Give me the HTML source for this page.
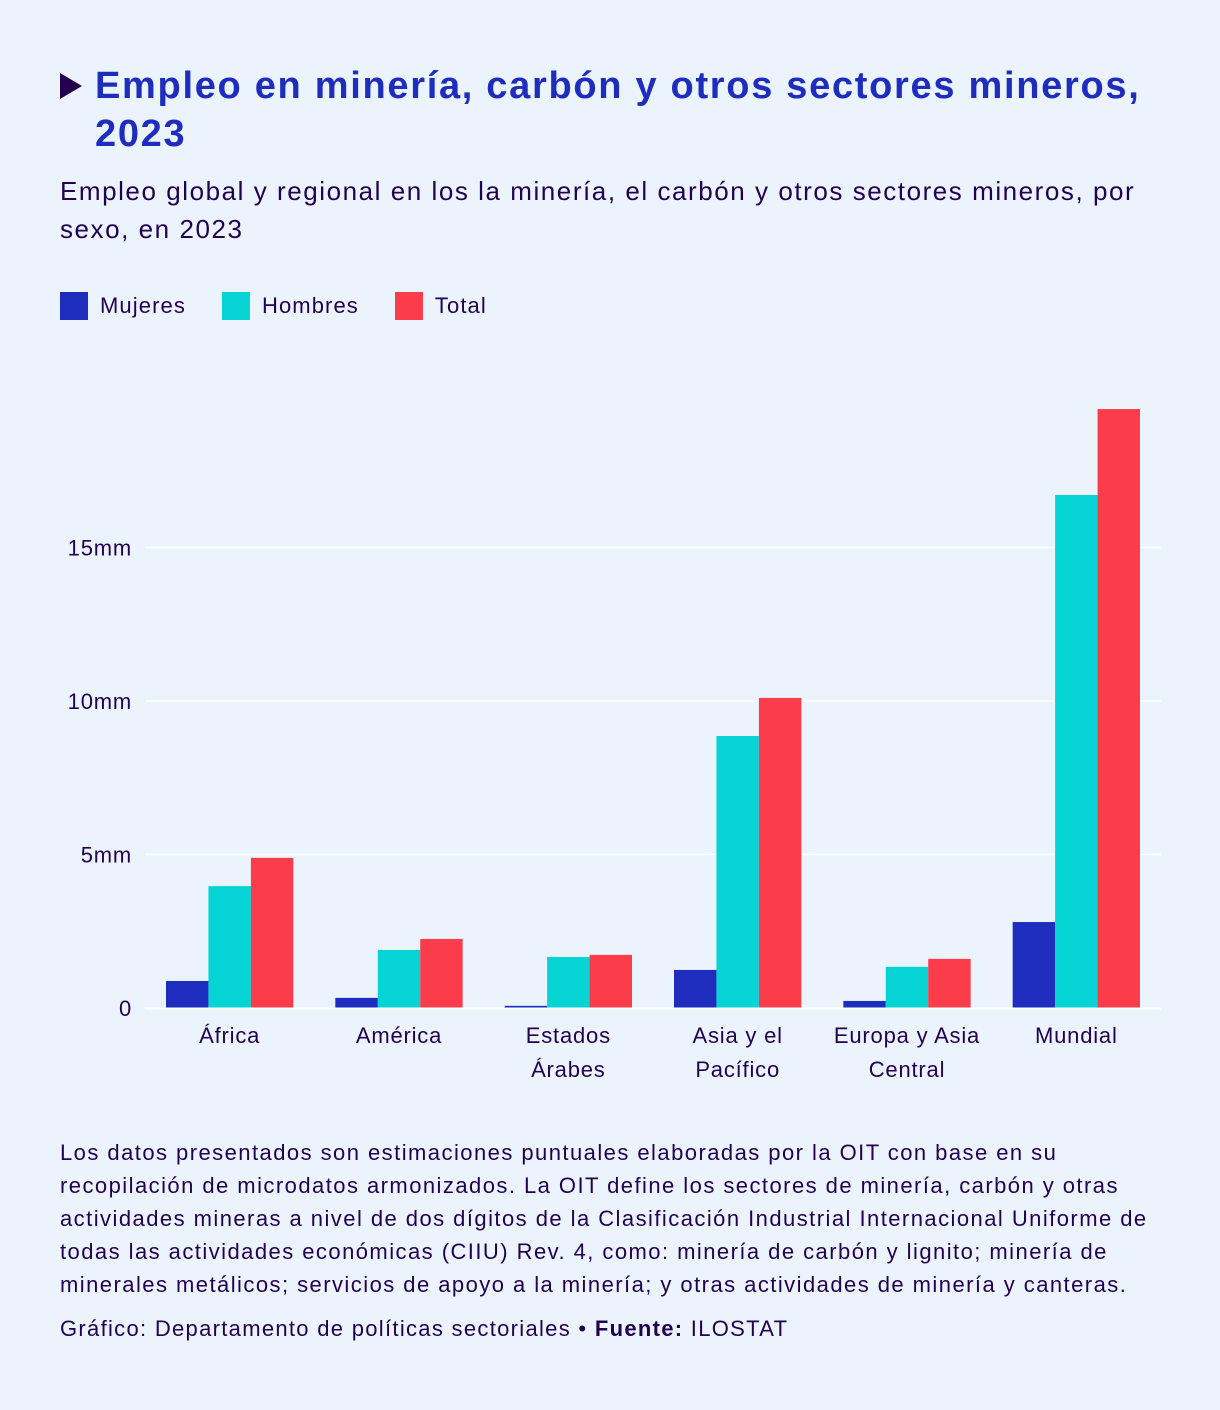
<!DOCTYPE html>
<html><head><meta charset="utf-8">
<style>
body{margin:0;background:#ebf4fd;font-family:"Liberation Sans",sans-serif;color:#230050;}
#wrap{position:relative;width:1220px;height:1410px;overflow:hidden;}
.title{position:absolute;left:95px;top:62px;width:1110px;font-size:38px;font-weight:bold;color:#1e2dbe;line-height:48px;letter-spacing:1.7px;white-space:nowrap;}
.tri{position:absolute;left:60px;top:73px;width:0;height:0;border-top:13px solid transparent;border-bottom:13px solid transparent;border-left:22px solid #230050;}
.sub{position:absolute;left:60px;top:172px;width:1140px;font-size:26px;line-height:38px;letter-spacing:1.55px;white-space:nowrap;}
.legend{position:absolute;left:60px;top:292px;font-size:22px;display:flex;align-items:center;letter-spacing:1.1px;}
.legend span.sw{display:inline-block;width:28px;height:28px;margin-right:12px;}
.legend .it{display:flex;align-items:center;margin-right:36px;}
.foot{position:absolute;left:60px;top:1136px;width:1140px;font-size:22px;line-height:33px;letter-spacing:1.45px;white-space:nowrap;}
.src{position:absolute;left:60px;top:1316px;font-size:22px;letter-spacing:1.3px;white-space:nowrap;}
</style></head><body>
<div id="wrap">
<div class="tri"></div>
<div class="title">Empleo en minería, carbón y otros sectores mineros,<br>2023</div>
<div class="sub">Empleo global y regional en los la minería, el carbón y otros sectores mineros, por<br>sexo, en 2023</div>
<div class="legend">
<div class="it"><span class="sw" style="background:#1e2dbe"></span>Mujeres</div>
<div class="it"><span class="sw" style="background:#06d4d4"></span>Hombres</div>
<div class="it"><span class="sw" style="background:#fa3c4b"></span>Total</div>
</div>
<svg id="chart" width="1220" height="1410" style="position:absolute;left:0;top:0"></svg>
<div class="foot">Los datos presentados son estimaciones puntuales elaboradas por la OIT con base en su<br>recopilación de microdatos armonizados. La OIT define los sectores de minería, carbón y otras<br>actividades mineras a nivel de dos dígitos de la Clasificación Industrial Internacional Uniforme de<br>todas las actividades económicas (CIIU) Rev. 4, como: minería de carbón y lignito; minería de<br>minerales metálicos; servicios de apoyo a la minería; y otras actividades de minería y canteras.</div>
<div class="src">Gráfico: Departamento de políticas sectoriales • <b>Fuente:</b> ILOSTAT</div>
</div>
<script>
const categories=[["África"],["América"],["Estados","Árabes"],["Asia y el","Pacífico"],["Europa y Asia","Central"],["Mundial"]];
const mujeres=[0.88,0.33,0.07,1.24,0.23,2.8];
const hombres=[3.97,1.89,1.66,8.86,1.34,16.71];
const total=[4.89,2.25,1.73,10.1,1.6,19.51];
const tickValues=[0,5,10,15];
const tickLabels=["0","5mm","10mm","15mm"];
const seriesNames=["mujeres","hombres","total"];
const colors=["#1e2dbe","#06d4d4","#fa3c4b"];

const svg=document.getElementById('chart');
const NS="http://www.w3.org/2000/svg";
const x0=145,x1=1161,yBase=1008,pxPer=30.7;
const y=v=>yBase-v*pxPer;
const gw=(x1-x0)/categories.length,pad=21,bw=(gw-2*pad)/3;
function mk(t,a){const e=document.createElementNS(NS,t);for(const k in a)e.setAttribute(k,a[k]);svg.appendChild(e);return e;}
tickValues.forEach((v,i)=>{
 if(v>0){const l=mk('line',{x1:x0,x2:x1,y1:y(v),y2:y(v),stroke:'#ffffff','stroke-width':1.5});
 
 }
 const t=mk('text',{x:132,y:y(v)+8,'text-anchor':'end','font-size':22,fill:'#230050','font-family':'Liberation Sans, sans-serif','letter-spacing':'0.8'});
 t.textContent=tickLabels[i];
 
 
});
const series=[mujeres,hombres,total];
series.forEach((s,si)=>{s.forEach((v,ci)=>{
 const r=mk('rect',{x:x0+ci*gw+pad+si*bw,y:y(v),width:bw,height:v*pxPer,fill:colors[si]});
 
 
});});
const ax=mk('line',{x1:x0,x2:x1,y1:yBase+0.5,y2:yBase+0.5,stroke:'#ffffff','stroke-width':2});


categories.forEach((c,ci)=>{c.forEach((line,li)=>{
 const t=mk('text',{x:x0+ci*gw+gw/2,y:1043+li*34,'text-anchor':'middle','font-size':22,fill:'#230050','font-family':'Liberation Sans, sans-serif','letter-spacing':'0.8'});
 t.textContent=line;
 
 
});});
</script>
</body></html>
